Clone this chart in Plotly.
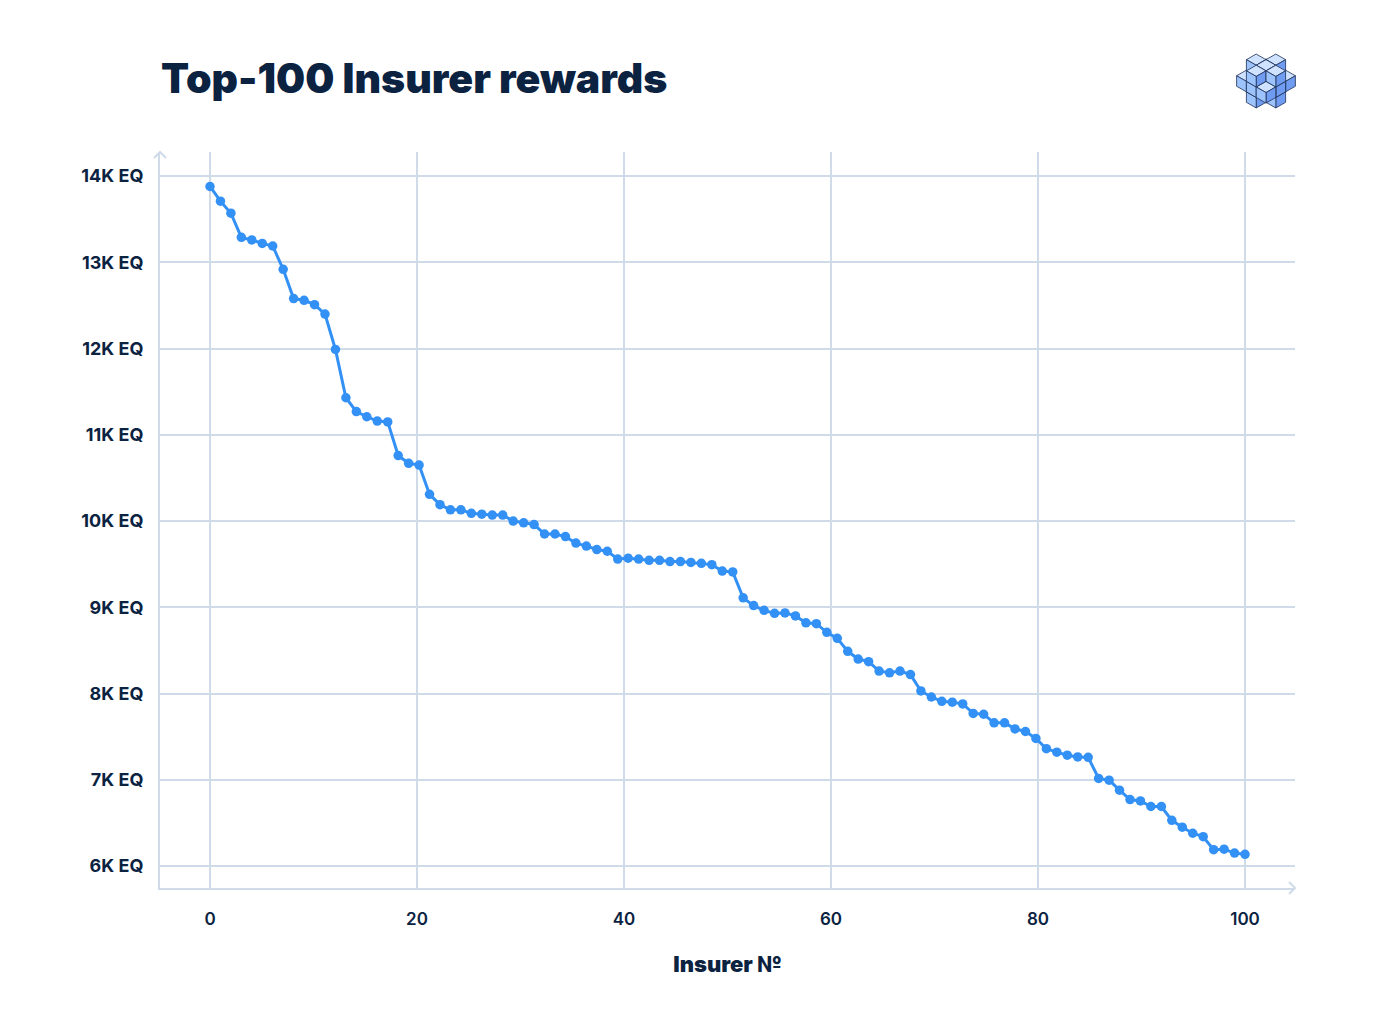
import plotly.graph_objects as go

# ---------------- data ----------------
rank = list(range(1, 101))
rewards_eq = [
    13880, 13710, 13570, 13290, 13260, 13220, 13190, 12920, 12580, 12560,
    12510, 12400, 11990, 11430, 11270, 11210, 11160, 11150, 10760, 10670,
    10650, 10310, 10190, 10130, 10130, 10090, 10080, 10070, 10070, 10000,
    9980, 9960, 9850, 9850, 9820, 9745, 9710, 9670, 9650, 9560,
    9570, 9560, 9545, 9545, 9530, 9530, 9520, 9510, 9495, 9420,
    9410, 9110, 9020, 8965, 8930, 8935, 8900, 8820, 8810, 8710,
    8640, 8490, 8400, 8370, 8260, 8240, 8260, 8220, 8030, 7960,
    7910, 7900, 7880, 7770, 7760, 7660, 7660, 7590, 7560, 7480,
    7360, 7320, 7285, 7265, 7260, 7015, 6995, 6880, 6770, 6755,
    6690, 6690, 6530, 6450, 6380, 6340, 6190, 6195, 6150, 6135,
]
x_ticks = [0, 20, 40, 60, 80, 100]
y_ticks = [6000, 7000, 8000, 9000, 10000, 11000, 12000, 13000, 14000]
y_tick_labels = ["6K EQ", "7K EQ", "8K EQ", "9K EQ", "10K EQ", "11K EQ", "12K EQ", "13K EQ", "14K EQ"]

# positions of the 100 insurers spread over the 0-100 axis
x_pos = [(r - 1) * 100 / (len(rank) - 1) for r in rank]

NAVY = "#0b2341"
GRID = "#cfdbe8"
LINE = "#3391f5"
FONT = "Inter"

W, H = 1400, 1036
ML, MR, MT, MB = 160, 105, 152, 148
PW, PH = W - ML - MR, H - MT - MB


def px(x):
    return (x - ML) / PW


def py(y):
    return (H - MB - y) / PH


fig = go.Figure()
fig.add_trace(go.Scatter(
    x=x_pos, y=rewards_eq, mode="lines+markers",
    line=dict(color=LINE, width=3),
    marker=dict(color=LINE, size=9.5),
    hoverinfo="skip", showlegend=False,
))

shapes = []
# axis arrows (chevrons)
shapes.append(dict(type="path", xref="paper", yref="paper",
                   path=f"M {px(154)} {py(158)} L {px(160)} {py(152)} L {px(166)} {py(158)}",
                   line=dict(color=GRID, width=2)))
shapes.append(dict(type="path", xref="paper", yref="paper",
                   path=f"M {px(1289)} {py(882)} L {px(1295)} {py(888)} L {px(1289)} {py(894)}",
                   line=dict(color=GRID, width=2)))

# ---- logo: isometric cluster of cubes ----
cx, cy = 1266, 81
a, b, h = 9.8, 5.6, 10.5
cubes = [(i, j, k) for i in range(3) for j in range(3) for k in range(3)
         if 1 in (i, j, k)]
cubes.sort(key=lambda c: (c[0] + c[1] + c[2], c[2]))


def poly(pts):
    return "M " + " L ".join(f"{px(x)} {py(y)}" for x, y in pts) + " Z"


def P(i, j, k):
    X = cx + (i - j) * a
    Y = (cy - 3 * b) + (i + j) * b - k * h + 1.5 * h
    return X, Y


for (i, j, k) in cubes:
    top = [P(i, j, k + 1), P(i + 1, j, k + 1), P(i + 1, j + 1, k + 1), P(i, j + 1, k + 1)]
    right = [P(i + 1, j, k + 1), P(i + 1, j + 1, k + 1), P(i + 1, j + 1, k), P(i + 1, j, k)]
    left = [P(i, j + 1, k + 1), P(i + 1, j + 1, k + 1), P(i + 1, j + 1, k), P(i, j + 1, k)]
    for pts, col in ((top, "#cfe2ff"), (right, "#6f9cf0"), (left, "#9cc3fb")):
        shapes.append(dict(type="path", xref="paper", yref="paper", path=poly(pts),
                           fillcolor=col, line=dict(color="#1d2f55", width=0.8)))

fig.update_layout(
    width=W, height=H,
    margin=dict(l=ML, r=MR, t=MT, b=MB, pad=0),
    paper_bgcolor="white", plot_bgcolor="white",
    title=dict(text="Top-100 Insurer rewards", x=px(161), xref="paper", xanchor="left",
               y=1 - 79 / H, yref="container", yanchor="middle",
               font=dict(family=FONT, size=41, color=NAVY, weight=900)),
    xaxis=dict(range=[-4.83, 104.83], tickvals=x_ticks, showgrid=True, gridcolor=GRID,
               gridwidth=2, showline=True, linecolor=GRID, linewidth=2, zeroline=False,
               ticks="", ticklabelstandoff=15,
               tickfont=dict(family=FONT, size=17, color=NAVY, weight=600),
               title=dict(text="Insurer №", standoff=28,
                          font=dict(family=FONT, size=22, color=NAVY, weight=900))),
    yaxis=dict(range=[5745, 14280], tickvals=y_ticks, ticktext=y_tick_labels,
               showgrid=True, gridcolor=GRID, gridwidth=2, showline=True, linecolor=GRID,
               linewidth=2, zeroline=False, ticks="", ticklabelstandoff=11,
               tickfont=dict(family=FONT, size=18, color=NAVY, weight=650)),
    shapes=shapes,
)

fig.write_html("out.html")
